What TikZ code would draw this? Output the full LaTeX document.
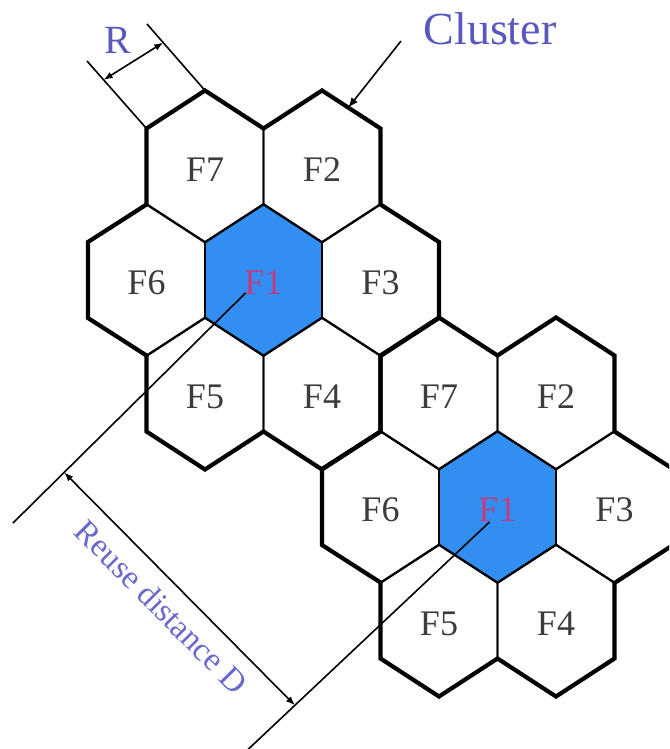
\documentclass[tikz,border=0pt]{standalone}
\usepackage{fontspec}
\setmainfont{Liberation Serif}
\usetikzlibrary{arrows.meta, calc}
\usepackage{xcolor}
\definecolor{reuse}{RGB}{50,142,240}
\definecolor{freqone}{RGB}{192,62,132}
\definecolor{cellgray}{RGB}{60,60,60}
\definecolor{annot}{RGB}{88,88,190}
\definecolor{annotlight}{RGB}{105,105,205}
\tikzset{
    cellline/.style={
        draw=black, line width=1.9pt
    },
    clusterline/.style={
        draw=black, line width=4.2pt
    },
    celltext/.style={
        font=\fontsize{36}{40}\selectfont, inner sep=0pt
    },
    annottext/.style={
        text=annot, inner sep=0pt
    },
    extline/.style={
        draw=black, line width=1.6pt
    },
    dimarrow/.style={
        {Latex[length=9pt,width=7pt]}-{Latex[length=9pt,width=7pt]}, line width=1.6pt, draw=black
    },
    arrow/.style={
        -{Latex[length=10pt,width=8pt]}, line width=1.6pt, draw=black
    }
}

\begin{document}
\begin{tikzpicture}[x=1pt, y=-1pt]

    \useasboundingbox (0,0) rectangle (669,749);
    \clip (0,0) rectangle (669,749);

    % two clusters of seven cells
    \foreach \cl/\ox/\oy in {a/263.5/280, b/497.5/507} {
        \foreach \nm/\dx/\dy/\bg/\fg in {1/0/0/reuse/freqone, 7/-58.5/-113.5/none/cellgray,
                2/58.5/-113.5/none/cellgray, 6/-117/0/none/cellgray, 3/117/0/none/cellgray,
                5/-58.5/113.5/none/cellgray, 4/58.5/113.5/none/cellgray} {
            \foreach \k/\vx/\vy in {0/0/-76, 1/58.5/-38, 2/58.5/38, 3/0/76, 4/-58.5/38, 5/-58.5/-38}
                \coordinate (\cl\nm-\k) at (\ox+\dx+\vx, \oy+\dy+\vy);
            \draw[cellline, fill=\bg] (\cl\nm-0) -- (\cl\nm-1) -- (\cl\nm-2) -- (\cl\nm-3)
                -- (\cl\nm-4) -- (\cl\nm-5) -- cycle;
            \node[celltext, text=\fg] (\cl\nm) at (\ox+\dx, \oy+\dy+3) {F\nm};
        }
        \draw[clusterline] (\cl7-4) -- (\cl7-5) -- (\cl7-0) -- (\cl7-1) -- (\cl2-0) -- (\cl2-1)
            -- (\cl2-2) -- (\cl3-1) -- (\cl3-2) -- (\cl3-3) -- (\cl4-2) -- (\cl4-3)
            -- (\cl4-4) -- (\cl5-3) -- (\cl5-4) -- (\cl5-5) -- (\cl6-4) -- (\cl6-5) -- cycle;
    }

    % cell radius
    \coordinate (r1) at (87,61);
    \coordinate (r2) at (147,24);
    \draw[extline] (a7-5) -- (r1);
    \draw[extline] (a7-0) -- (r2);
    \draw[dimarrow] ($(a7-5)!0.72!(r1)$) -- ($(a7-0)!0.72!(r2)$);
    \node[annottext, font=\fontsize{40}{44}\selectfont] (rlab) at (118,40) {R};

    % cluster pointer
    \node[annottext, font=\fontsize{46}{50}\selectfont] (clusterlab) at (490,29) {Cluster};
    \coordinate (cltail) at (401,41);
    \draw[arrow] (cltail) -- ($(a2-0)!0.45!(a2-1)$);

    % reuse distance
    \coordinate (ea1) at ($(a1)+(-18,10)$);
    \coordinate (ee1) at (13,523);
    \coordinate (ea2) at ($(b1)+(-8,12)$);
    \coordinate (ee2) at (240,757);
    \draw[extline] (ea1) -- (ee1);
    \draw[extline] (ea2) -- (ee2);
    \draw[dimarrow] ($(ea1)!0.78!(ee1)$) -- node[sloped, below=13pt, annottext, text=annotlight,
        font=\fontsize{33}{36}\selectfont] (reuselab) {Reuse distance D} ($(ea2)!0.78!(ee2)$);

\end{tikzpicture}
\end{document}
